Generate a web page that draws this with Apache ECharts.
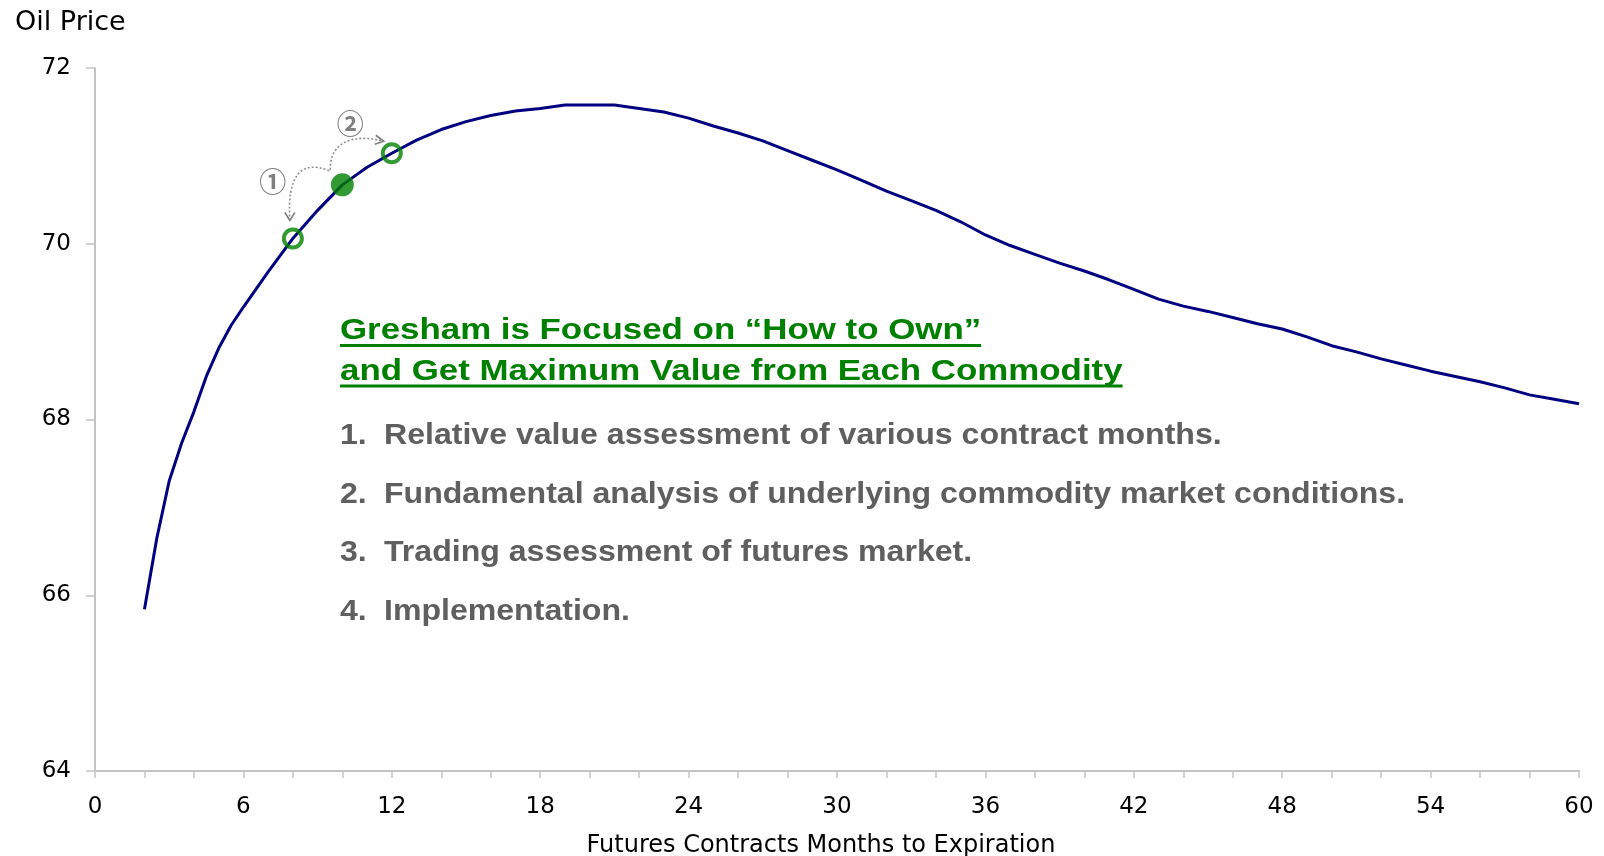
<!DOCTYPE html>
<html>
<head>
<meta charset="utf-8">
<script src="https://cdn.jsdelivr.net/npm/echarts@6/dist/echarts.min.js"></script>
<style>
  html, body { margin: 0; padding: 0; background: #fff; }
  #chart { width: 1604px; height: 856px; }
</style>
</head>
<body>
<div id="chart"></div>
<script>
// futures curve: months to expiration vs oil price
const months = [2, 2.5, 3, 3.5, 4, 4.5, 5, 5.5, 6, 7, 8, 9, 10, 11, 12, 13, 14, 15, 16, 17, 18, 19, 20, 21,
  22, 23, 24, 25, 26, 27, 28, 29, 30, 31, 32, 33, 34, 35, 36, 37, 38, 39, 40, 41,
  42, 43, 44, 45, 46, 47, 48, 49, 50, 51, 52, 53, 54, 55, 56, 57, 58, 59, 60];
const prices = [65.84, 66.65, 67.30, 67.73, 68.09, 68.49, 68.81, 69.07, 69.28, 69.68, 70.06, 70.38, 70.67, 70.87,
  71.03, 71.18, 71.30, 71.39, 71.46, 71.51, 71.54, 71.58, 71.58, 71.58,
  71.54, 71.50, 71.43, 71.34, 71.26, 71.17, 71.06, 70.95, 70.84, 70.72,
  70.60, 70.49, 70.38, 70.25, 70.10, 69.98, 69.88, 69.78, 69.69, 69.59,
  69.48, 69.37, 69.29, 69.23, 69.16, 69.09, 69.03, 68.94, 68.84, 68.77,
  68.69, 68.62, 68.55, 68.49, 68.43, 68.36, 68.28, 68.23, 68.18];

// roll points: the held contract and the two it can roll into
const heldMonth = 10;
const rollMonths = [8, 12];
const rollMarks = ['①', '②'];

const headline = ['Gresham is Focused on “How to Own”', 'and Get Maximum Value from Each Commodity'];
const steps = [
  'Relative value assessment of various contract months.',
  'Fundamental analysis of underlying commodity market conditions.',
  'Trading assessment of futures market.',
  'Implementation.'
];

const AXIS_FONT = '"DejaVu Sans", "Liberation Sans", sans-serif';
const GREEN = '#008000';
const GREY = '#c4c4c4';

const chart = echarts.init(document.getElementById('chart'));

const priceAt = m => prices[months.indexOf(m)];
const curve = months.map((m, i) => [m, prices[i]]);

chart.setOption({
  animation: false,
  grid: { left: 95, right: 25, top: 68, bottom: 85, outerBoundsMode: 'none' },
  xAxis: {
    type: 'value',
    min: 0, max: 60, interval: 6,
    name: 'Futures Contracts Months to Expiration',
    nameLocation: 'middle',
    nameGap: 63,
    nameTextStyle: { color: '#000', fontSize: 24, fontFamily: AXIS_FONT, padding: [0, 32, 0, 0] },
    axisLine: { lineStyle: { color: GREY, width: 2 } },
    axisTick: { show: true, length: 7, lineStyle: { color: GREY, width: 1.5 } },
    minorTick: { show: true, splitNumber: 3, length: 7, lineStyle: { color: GREY, width: 1.5 } },
    splitLine: { show: false },
    axisLabel: { color: '#000', fontSize: 23, fontFamily: AXIS_FONT, margin: 25 }
  },
  yAxis: {
    type: 'value',
    min: 64, max: 72, interval: 2,
    name: 'Oil Price',
    nameLocation: 'end',
    nameGap: 32,
    nameTextStyle: { color: '#000', fontSize: 27, fontFamily: AXIS_FONT, align: 'left', padding: [0, 0, 0, -80] },
    axisLine: { show: true, lineStyle: { color: GREY, width: 2 } },
    axisTick: { show: true, length: 9, lineStyle: { color: GREY, width: 1.5 } },
    splitLine: { show: false },
    axisLabel: { color: '#000', fontSize: 23, fontFamily: AXIS_FONT, margin: 24 }
  },
  series: [
    {
      type: 'line',
      data: curve,
      showSymbol: false,
      lineStyle: { color: '#000080', width: 3 },
      z: 2
    },
    {
      type: 'scatter',
      z: 3,
      data: [
        { value: [heldMonth, priceAt(heldMonth)], symbolSize: 23, itemStyle: { color: GREEN } }
      ].concat(rollMonths.map(m => ({
        value: [m, priceAt(m)],
        symbolSize: 18,
        itemStyle: { color: 'rgba(0,0,0,0)', borderColor: GREEN, borderWidth: 4 }
      })))
    }
  ]
});

// overlay: roll arrows and text block
const px = m => chart.convertToPixel({ gridIndex: 0 }, [m, priceAt(m)]);
const held = px(heldMonth);
const near = px(rollMonths[0]);
const far = px(rollMonths[1]);

const arrowStyle = { stroke: '#8f8f8f', lineWidth: 1.6, lineDash: [2, 2], fill: null };
const headStyle = { stroke: '#808080', lineWidth: 1.6, fill: null };
const markFont = 'bold 27px "Noto Sans CJK JP", "DejaVu Sans", sans-serif';

const ctx = document.createElement('canvas').getContext('2d');
const textWidth = (t, font) => { ctx.font = font; return ctx.measureText(t).width; };

const headFont = 'bold 30px "Liberation Sans", Arial, sans-serif';
const headScale = 1.162;
const stepFont = 'bold 30px "Liberation Sans", Arial, sans-serif';
const stepScale = 1.069;
const blockLeft = 340;

const graphics = [
  // arc to nearer contract
  {
    type: 'bezierCurve',
    shape: {
      x1: held[0] - 13, y1: held[1] - 14,
      cpx1: held[0] - 42, cpy1: held[1] - 26,
      cpx2: near[0] - 6, cpy2: near[1] - 62,
      x2: near[0] - 3, y2: near[1] - 18
    },
    style: arrowStyle
  },
  {
    type: 'polyline',
    shape: { points: [[near[0] - 8, near[1] - 26], [near[0] - 3, near[1] - 18], [near[0] + 2, near[1] - 26]] },
    style: headStyle
  },
  // arc to farther contract
  {
    type: 'bezierCurve',
    shape: {
      x1: held[0] - 12, y1: held[1] - 15,
      cpx1: held[0] - 13, cpy1: held[1] - 42,
      cpx2: held[0] + 10, cpy2: held[1] - 52,
      x2: far[0] - 8, y2: far[1] - 12
    },
    style: arrowStyle
  },
  {
    type: 'polyline',
    shape: { points: [[far[0] - 16, far[1] - 18], [far[0] - 8, far[1] - 12], [far[0] - 17, far[1] - 9]] },
    style: headStyle
  },
  {
    type: 'text', x: near[0] - 20, y: near[1] - 57,
    style: { text: rollMarks[0], font: markFont, fill: '#7f7f7f', align: 'center', verticalAlign: 'middle' }
  },
  {
    type: 'text', x: held[0] + 8, y: held[1] - 61,
    style: { text: rollMarks[1], font: markFont, fill: '#7f7f7f', align: 'center', verticalAlign: 'middle' }
  }
];

headline.forEach((t, i) => {
  const y = 331 + i * 40.5;
  graphics.push({
    type: 'text', x: blockLeft, y: y, scaleX: headScale,
    style: { text: t, font: headFont, fill: GREEN, align: 'left', verticalAlign: 'middle' }
  });
  graphics.push({
    type: 'rect',
    shape: { x: blockLeft, y: y + 13, width: textWidth(t, headFont) * headScale, height: 3 },
    style: { fill: GREEN }
  });
});

steps.forEach((t, i) => {
  const y = 435.5 + i * 58.8;
  graphics.push({
    type: 'text', x: blockLeft, y: y, scaleX: stepScale,
    style: { text: (i + 1) + '.', font: stepFont, fill: '#5f5f5f', align: 'left', verticalAlign: 'middle' }
  });
  graphics.push({
    type: 'text', x: blockLeft + 44, y: y, scaleX: stepScale,
    style: { text: t, font: stepFont, fill: '#5f5f5f', align: 'left', verticalAlign: 'middle' }
  });
});

chart.setOption({ graphic: graphics });
</script>
</body>
</html>
